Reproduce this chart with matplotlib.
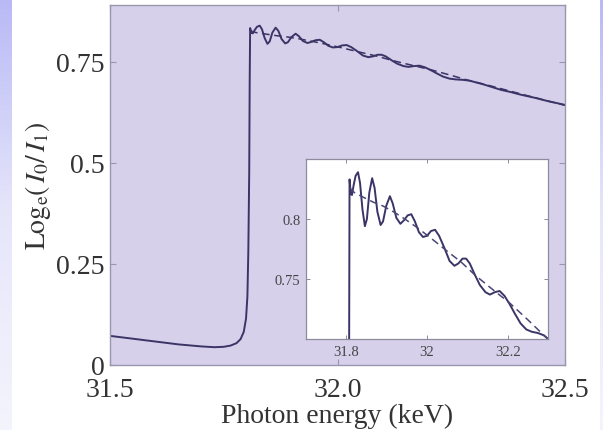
import numpy as np
import matplotlib
matplotlib.use("Agg")
import matplotlib.pyplot as plt
from matplotlib.colors import LinearSegmentedColormap

plt.rcParams["font.family"] = ["Liberation Serif", "DejaVu Serif"]
plt.rcParams["mathtext.fontset"] = "stix"

# Measured absorption across the K edge (keV, ln(I0/I1))
energy_keV = [
    31.500, 31.550, 31.600, 31.650, 31.700, 31.730, 31.750, 31.765, 31.778,
    31.787, 31.794, 31.799, 31.802, 31.804, 31.806, 31.807, 31.808, 31.811,
    31.814, 31.818, 31.823, 31.829, 31.834, 31.840, 31.846, 31.851, 31.857,
    31.864, 31.870, 31.877, 31.885, 31.891, 31.899, 31.908, 31.915, 31.924,
    31.934, 31.943, 31.952, 31.961, 31.970, 31.980, 31.990, 32.000, 32.010,
    32.020, 32.030, 32.043, 32.056, 32.068, 32.078, 32.088, 32.097, 32.106,
    32.118, 32.131, 32.145, 32.156, 32.168, 32.180, 32.192, 32.205, 32.218,
    32.232, 32.246, 32.260, 32.275, 32.290, 32.300, 32.320, 32.340, 32.360,
    32.380, 32.400, 32.420, 32.440, 32.460, 32.480, 32.500,
]
absorbance = [
    0.072, 0.065, 0.058, 0.051, 0.046, 0.044, 0.045, 0.048, 0.054,
    0.064, 0.082, 0.115, 0.170, 0.280, 0.480, 0.700, 0.833, 0.821,
    0.820, 0.828, 0.836, 0.839, 0.830, 0.808, 0.794, 0.800, 0.822,
    0.834, 0.826, 0.806, 0.795, 0.798, 0.811, 0.819, 0.813, 0.801,
    0.796, 0.799, 0.803, 0.804, 0.798, 0.789, 0.785, 0.786, 0.790,
    0.791, 0.786, 0.776, 0.765, 0.761, 0.763, 0.767, 0.767, 0.763,
    0.754, 0.745, 0.739, 0.737, 0.739, 0.740, 0.736, 0.729, 0.721,
    0.713, 0.708, 0.706, 0.705, 0.703, 0.700, 0.694, 0.687, 0.680,
    0.675, 0.669, 0.664, 0.659, 0.653, 0.648, 0.643,
]

# Smooth (atomic) absorption used for comparison
fit_energy_keV = [
    31.808, 31.820, 31.843, 31.867, 31.890, 31.917, 31.945, 31.975, 32.010,
    32.047, 32.085, 32.120, 32.160, 32.205, 32.250, 32.290, 32.330, 32.370,
    32.410, 32.450, 32.500,
]
fit_absorbance = [
    0.826, 0.822, 0.818, 0.814, 0.811, 0.806, 0.800, 0.793, 0.784,
    0.774, 0.764, 0.753, 0.742, 0.730, 0.716, 0.703, 0.692, 0.680,
    0.668, 0.656, 0.642,
]

main_xticks = [31.5, 32.0, 32.5]
main_xticklabels = ["31.5", "32.0", "32.5"]
main_yticks = [0, 0.25, 0.5, 0.75]
main_yticklabels = ["0", "0.25", "0.5", "0.75"]
inset_xticks = [31.8, 32.0, 32.2]
inset_xticklabels = ["31.8", "32", "32.2"]
inset_yticks = [0.75, 0.8]
inset_yticklabels = ["0.75", "0.8"]

W, H = 603, 431
fig = plt.figure(figsize=(W / 100, H / 100), dpi=100)
fig.patch.set_facecolor("white")

# Bluish slide border strips
grad = np.linspace(0, 1, 256).reshape(-1, 1)
cmap = LinearSegmentedColormap.from_list("edge", ["#b9b9f6", "#e6e6fb", "#f4f4fd"])
for x0, w in [(0, 12), (600, 3)]:
    bax = fig.add_axes([x0 / W, 0, w / W, 1])
    bax.imshow(grad, aspect="auto", cmap=cmap, extent=[0, 1, 0, 1])
    bax.set_axis_off()

line_color = "#3a3566"
spine_color = "#9a96ae"
tick_color = "#333333"

# Main axes
ax = fig.add_axes([110 / W, (H - 366) / H, 455 / W, 360 / H])
ax.set_facecolor("#d7d0eb")
ax.plot(energy_keV, absorbance, color=line_color, lw=1.4, solid_joinstyle="round")
ax.plot(fit_energy_keV, fit_absorbance, color=line_color, lw=1.1, ls=(0, (5, 3)))
ax.set_xlim(31.5, 32.5)
ax.set_ylim(0, 0.89)
ax.set_xticks(main_xticks)
ax.set_xticklabels(main_xticklabels)
ax.set_yticks(main_yticks)
ax.set_yticklabels(main_yticklabels)
ax.tick_params(direction="in", length=4, width=0.8, colors=spine_color,
               labelcolor=tick_color, labelsize=20, top=True, right=True)
ax.tick_params(axis="x", pad=8.5)
ax.tick_params(axis="y", pad=4)
for s in ax.spines.values():
    s.set_color(spine_color)
    s.set_linewidth(1.0)
ax.set_xlabel("Photon energy (keV)", fontsize=20, color=tick_color)
ax.xaxis.set_label_coords(0.5, -0.105)
ax.set_ylabel(r"$\mathrm{Log}_{\mathrm{e}}(\,I_0/\,I_1)$", fontsize=20, color=tick_color)
ax.yaxis.set_label_coords(-0.125, 0.5)

# Inset: detail of the near-edge fine structure
ins = fig.add_axes([306 / W, (H - 340) / H, 242 / W, 180 / H])
ins.set_facecolor("white")
ins.plot(energy_keV, absorbance, color=line_color, lw=1.4, solid_joinstyle="round")
ins.plot(fit_energy_keV, fit_absorbance, color="#4a4676", lw=1.1, ls=(0, (5, 3)))
ins.set_xlim(31.7, 32.3)
ins.set_ylim(0.70, 0.85)
ins.set_xticks(inset_xticks)
ins.set_xticklabels(inset_xticklabels)
ins.set_yticks(inset_yticks)
ins.set_yticklabels(inset_yticklabels)
ins.tick_params(direction="in", length=3, width=0.7, colors="#8c8c9c",
                labelcolor="#444444", labelsize=10.5, top=True, right=True, pad=4)
for s in ins.spines.values():
    s.set_color("#8c8c9c")
    s.set_linewidth(0.9)

fig.savefig("out.png", dpi=100)
